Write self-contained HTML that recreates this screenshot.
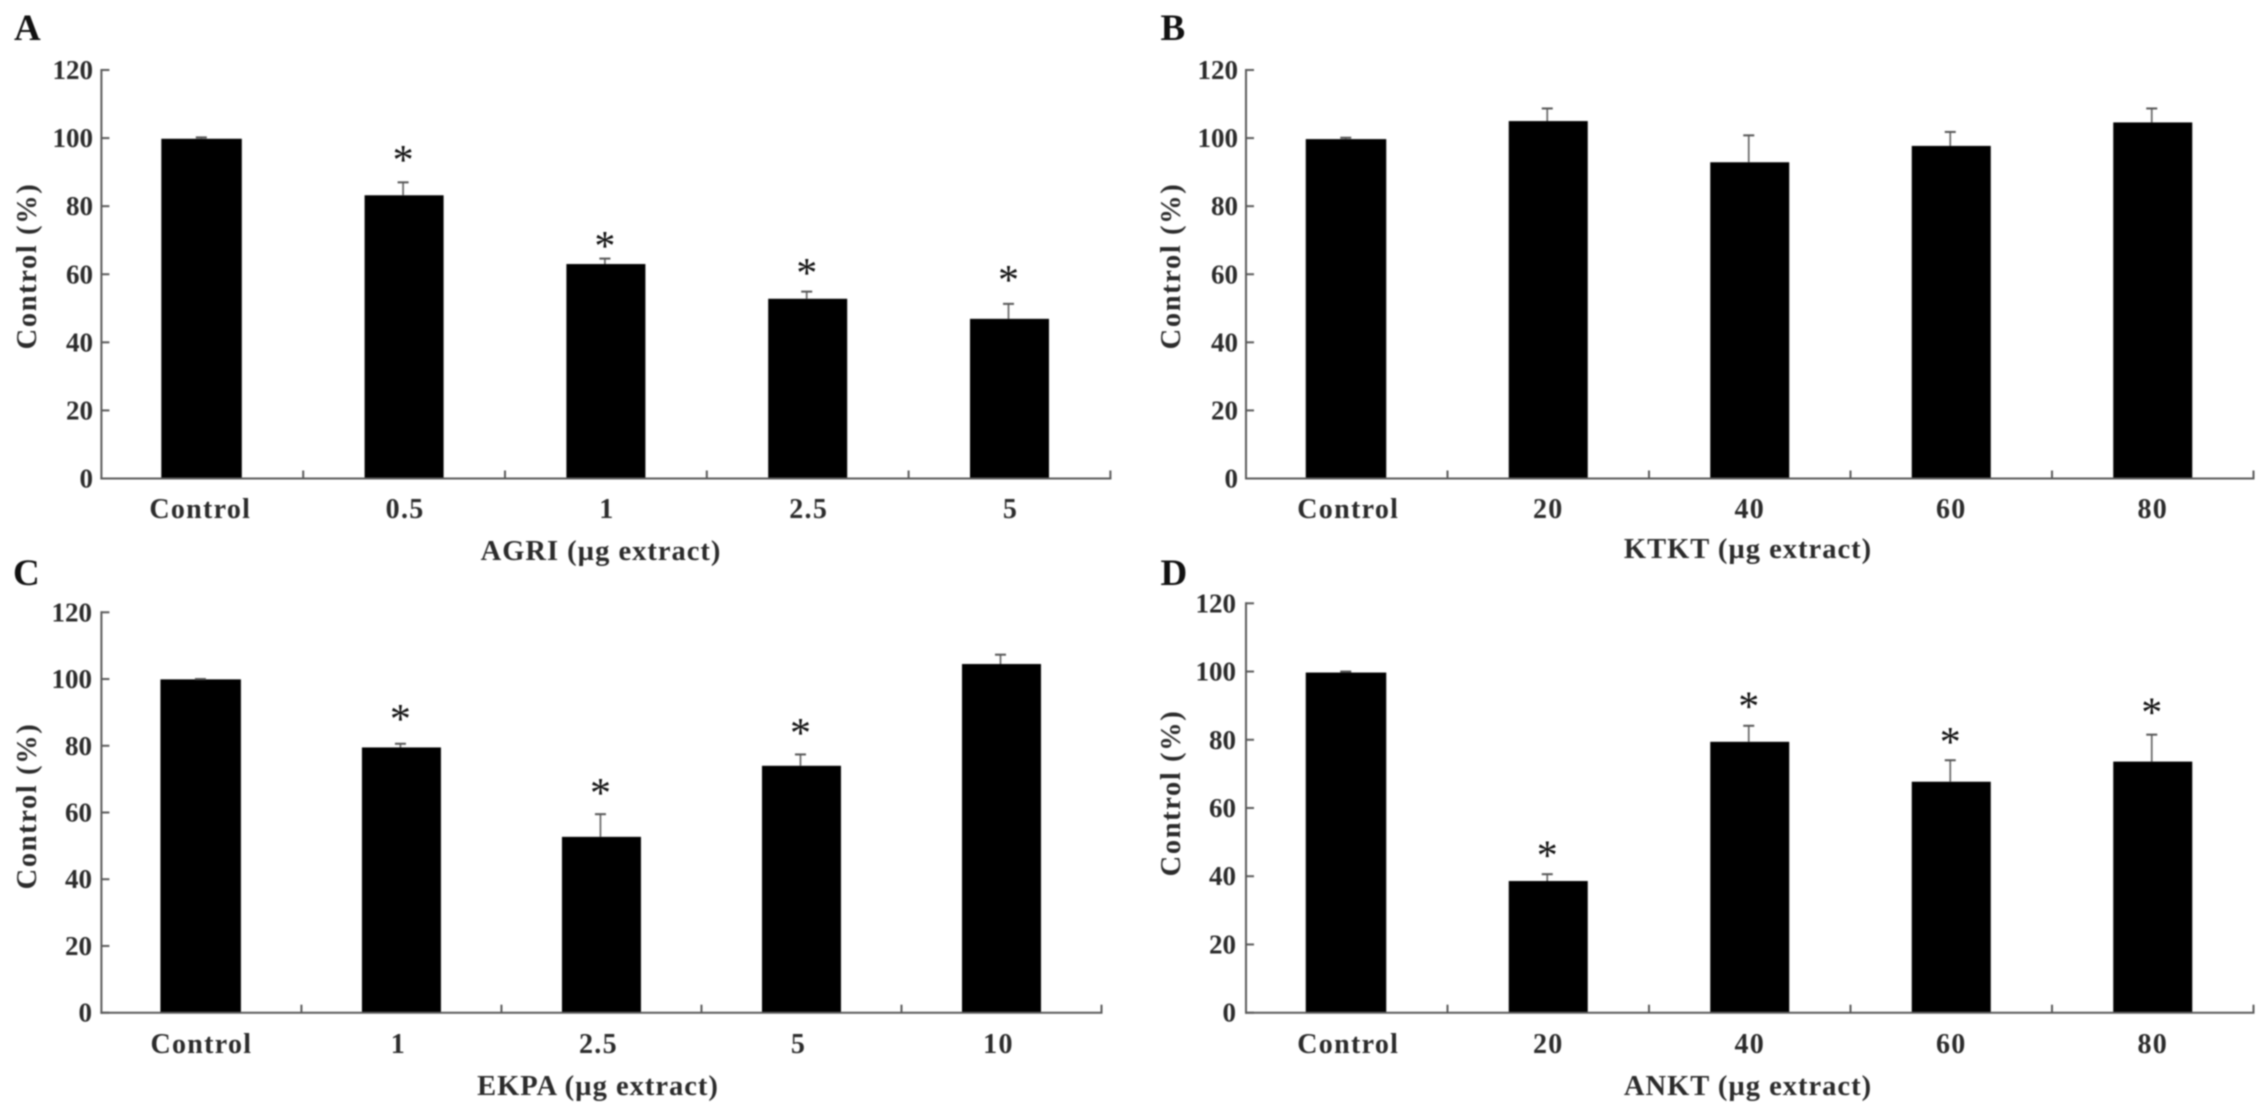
<!DOCTYPE html>
<html lang="en">
<head>
<meta charset="utf-8">
<title>Control (%) by extract dose, panels A to D</title>
<style>
  html, body { margin: 0; padding: 0; background: #ffffff; }
  #figure { display: block; width: 2268px; height: 1115px; filter: blur(0.8px); }
  text { font-family: "Liberation Serif", "Times New Roman", serif; fill: #2b2b2b; }
  .tick { font-size: 27px; font-weight: 700; }
  .cat { font-size: 28px; font-weight: 700; letter-spacing: 1.3px; }
  .title { font-size: 28.5px; font-weight: 700; letter-spacing: 1px; }
  .y-title { font-size: 28.5px; font-weight: 700; letter-spacing: 1.6px; }
  .panel-letter { font-size: 37px; font-weight: 700; fill: #111; }
  .star { font-size: 42px; font-weight: 400; fill: #111; }
</style>
</head>
<body>
<svg id="figure" xmlns="http://www.w3.org/2000/svg" width="2268" height="1115" viewBox="0 0 2268 1115">
  <rect x="0" y="0" width="2268" height="1115" fill="#ffffff"></rect>
</svg>
<script>
// Shared axis ticks
const yTicks = [0, 20, 40, 60, 80, 100, 120];

// Panel A
const aCategories = ['Control', '0.5', '1', '2.5', '5'];
const aValues = [99.8, 83.2, 63, 52.8, 46.9];
const aErrors = [0.4, 3.8, 1.6, 2.1, 4.4];
const aStarGaps = [null, 8.3, 5.4, 7.1, 8.7];

// Panel B
const bCategories = ['Control', '20', '40', '60', '80'];
const bValues = [99.7, 105, 92.9, 97.7, 104.6];
const bErrors = [0.4, 3.7, 7.9, 4.1, 4.1];
const bStarGaps = [null, null, null, null, null];

// Panel C
const cCategories = ['Control', '1', '2.5', '5', '10'];
const cValues = [99.9, 79.5, 52.7, 74, 104.5];
const cErrors = [0.1, 1.1, 6.8, 3.4, 2.8];
const cStarGaps = [null, 9.2, 8, 8.1, null];

// Panel D
const dCategories = ['Control', '20', '40', '60', '80'];
const dValues = [99.7, 38.6, 79.4, 67.7, 73.6];
const dErrors = [0.3, 2, 4.7, 6.3, 7.9];
const dStarGaps = [null, 7.1, 7.3, 7.1, 8.2];

const SVG_NS = 'http://www.w3.org/2000/svg';
const figure = document.getElementById('figure');

function make(parent, tag, attrs, text) {
  const el = document.createElementNS(SVG_NS, tag);
  for (const key in attrs) el.setAttribute(key, attrs[key]);
  if (text !== undefined) el.textContent = text;
  parent.appendChild(el);
  return el;
}

function drawPanel(p) {
  const group = make(figure, 'g', {});
  
  

  const n = p.categories.length;
  const step = (p.x1 - p.x0) / n;
  const xScale = function (i) { return p.x0 + (i + 0.5) * step; };
  const yScale = function (v) { return p.y0 - (v / 120) * (p.y0 - p.y120); };
  const AXIS = '#5a5a5a';

  const letter = make(group, 'text', { x: p.letterX, y: p.letterY, 'class': 'panel-letter' }, p.id);
  
  

  // Bars
  p.values.forEach(function (v, i) {
    const extra = (i === 0) ? 1.5 : 0;
    const bar = make(group, 'rect', {
      x: xScale(i) - 39.5 - extra,
      y: yScale(v),
      width: 79 + extra,
      height: p.y0 - yScale(v),
      fill: '#000000'
    });
    
    
  });

  // Error bars
  p.values.forEach(function (v, i) {
    const cx = xScale(i) - 1;
    const top = yScale(v + p.errors[i]);
    const stem = make(group, 'line', { x1: cx, x2: cx, y1: yScale(v), y2: top, stroke: '#666', 'stroke-width': 1.7 });
    
    
    const cap = make(group, 'line', { x1: cx - 5.5, x2: cx + 5.5, y1: top, y2: top, stroke: '#555', 'stroke-width': 2 });
    
    
  });

  // Significance stars
  p.starGaps.forEach(function (gap, i) {
    if (gap === null) return;
    const cy = yScale(p.values[i] + p.errors[i] + gap);
    const star = make(group, 'text', { x: xScale(i) - 1, y: cy + 0.47 * 42, 'text-anchor': 'middle', 'class': 'star' }, '*');
    
    
  });

  // Axes
  const yAxis = make(group, 'line', { x1: p.x0, x2: p.x0, y1: p.y120 - 1, y2: p.y0 + 1, stroke: AXIS, 'stroke-width': 2 });
  
  
  const xAxis = make(group, 'line', { x1: p.x0 - 1, x2: p.x1 + 1, y1: p.y0, y2: p.y0, stroke: AXIS, 'stroke-width': 2 });
  
  

  yTicks.forEach(function (t) {
    const y = yScale(t);
    const mark = make(group, 'line', { x1: p.x0, x2: p.x0 + 8, y1: y, y2: y, stroke: AXIS, 'stroke-width': 2 });
    
    
    const label = make(group, 'text', { x: p.yLabelX, y: y + 9, 'text-anchor': 'end', 'class': 'tick' }, String(t));
    
    
  });

  for (let i = 1; i <= n; i++) {
    const x = p.x0 + i * step;
    const mark = make(group, 'line', { x1: x, x2: x, y1: p.y0, y2: p.y0 - 8, stroke: AXIS, 'stroke-width': 2 });
    
    
  }

  p.categories.forEach(function (c, i) {
    const dx = (i === 0) ? p.firstDx : p.labelDx;
    const label = make(group, 'text', { x: xScale(i) + dx, y: p.catY, 'text-anchor': 'middle', 'class': 'cat' }, c);
    
    
  });

  const xTitle = make(group, 'text', { x: p.xTitleX, y: p.xTitleY, 'text-anchor': 'middle', 'class': 'title' }, p.xTitle);
  
  

  const yTitle = make(group, 'text', {
    x: 0, y: 0, 'text-anchor': 'middle', 'class': 'y-title',
    transform: 'translate(' + p.yTitleX + ',' + p.yTitleY + ') rotate(-90)'
  }, 'Control (%)');
  
  
}

drawPanel({
  id: 'A', categories: aCategories, values: aValues, errors: aErrors, starGaps: aStarGaps,
  x0: 101.4, x1: 1110.4, y0: 478.5, y120: 70,
  letterX: 14, letterY: 40, yLabelX: 93, catY: 518, labelDx: 1, firstDx: -2,
  xTitle: 'AGRI (µg extract)', xTitleX: 601, xTitleY: 560, yTitleX: 36, yTitleY: 266
});

drawPanel({
  id: 'B', categories: bCategories, values: bValues, errors: bErrors, starGaps: bStarGaps,
  x0: 1246, x1: 2253.5, y0: 478.5, y120: 70,
  letterX: 1160.5, letterY: 40, yLabelX: 1238, catY: 518, labelDx: 0, firstDx: 1.5,
  xTitle: 'KTKT (µg extract)', xTitleX: 1748, xTitleY: 558, yTitleX: 1180, yTitleY: 266
});

drawPanel({
  id: 'C', categories: cCategories, values: cValues, errors: cErrors, starGaps: cStarGaps,
  x0: 101.4, x1: 1101.5, y0: 1012.7, y120: 612.3,
  letterX: 13, letterY: 585, yLabelX: 92, catY: 1053, labelDx: -3, firstDx: 0,
  xTitle: 'EKPA (µg extract)', xTitleX: 598, xTitleY: 1095, yTitleX: 36, yTitleY: 806
});

drawPanel({
  id: 'D', categories: dCategories, values: dValues, errors: dErrors, starGaps: dStarGaps,
  x0: 1246, x1: 2253.5, y0: 1012.7, y120: 603.3,
  letterX: 1160.5, letterY: 585, yLabelX: 1236, catY: 1053, labelDx: 0, firstDx: 1.5,
  xTitle: 'ANKT (µg extract)', xTitleX: 1748, xTitleY: 1095, yTitleX: 1180, yTitleY: 793
});
</script>
</body>
</html>
